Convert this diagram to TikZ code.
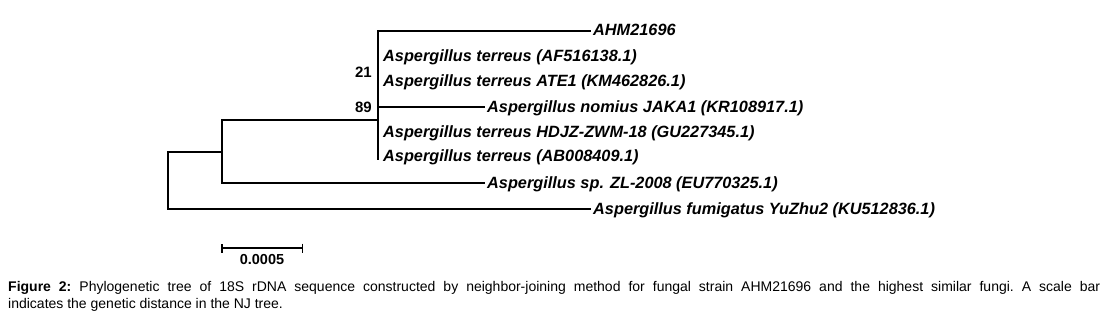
\documentclass[tikz,border=0pt]{standalone}
\usepackage{fontspec}
\setmainfont{Liberation Sans}
\usetikzlibrary{arrows.meta}

\tikzset{
  branch/.style={line width=1.7pt, line join=miter},
  taxon/.style={anchor=west, inner sep=2pt, text height=11pt, text depth=1pt,
    font=\bfseries\itshape\fontsize{16.3}{18}\selectfont},
  boot/.style={anchor=east, inner sep=1pt, font=\bfseries\fontsize{15}{16}\selectfont}
}

\begin{document}
\begin{tikzpicture}[x=1pt, y=-1pt]
  \useasboundingbox (0,0) rectangle (1107,313);

  % Internal nodes
  \coordinate (root) at (168,180);
  \coordinate (n2) at (222,152);
  \coordinate (n89) at (378,120);
  \coordinate (n89end) at (378,160);

  % Taxa with branch length
  \node[taxon] (ahm) at (591,31) {AHM21696};
  \node[taxon] (kr1089) at (485,107) {Aspergillus nomius JAKA1 (KR108917.1)};
  \node[taxon] (eu7703) at (485,183) {Aspergillus sp. ZL-2008 (EU770325.1)};
  \node[taxon] (ku5128) at (591,209) {Aspergillus fumigatus YuZhu2 (KU512836.1)};

  % Taxa sitting on the clade line
  \foreach \name/\y/\txt in {
      af5161/57/{Aspergillus terreus (AF516138.1)},
      km4628/81/{Aspergillus terreus ATE1 (KM462826.1)},
      gu2273/132/{Aspergillus terreus HDJZ-ZWM-18 (GU227345.1)},
      ab0084/156/{Aspergillus terreus (AB008409.1)}} {
    \node[taxon] (\name) at (381,\y) {\txt};
  }

  % Branches
  \draw[branch] (root) |- (n2);
  \draw[branch] (root) |- (ku5128.west);
  \draw[branch] (n2) |- (n89);
  \draw[branch] (n2) |- (eu7703.west);
  \draw[branch] (n89) |- (ahm.west);
  \draw[branch] (n89) |- (kr1089.west);
  \draw[branch] (n89) -- (n89end);

  % Bootstrap values
  \node[boot] (bs21) at (373,72) {21};
  \node[boot] (bs89) at (373,107) {89};

  % Scale bar
  \coordinate (sbL) at (221,248);
  \coordinate (sbR) at (303,248);
  \draw[line width=1.5pt, {Bar[width=9pt]}-{Bar[width=9pt]}] (sbL) -- (sbR);
  \node[font=\bfseries\fontsize{14.5}{16}\selectfont, inner sep=1pt] (sblab) at (262,260) {0.0005};

  % Caption
  \node[anchor=base west, text width=1092pt, align=justify, inner sep=0pt,
    font=\fontsize{14}{17}\selectfont\frenchspacing] (caption) at (8,291)
    {\textbf{Figure 2:} Phylogenetic tree of 18S rDNA sequence constructed by neighbor-joining method for fungal strain AHM21696 and the highest similar fungi. A scale bar\linebreak indicates the genetic distance in the NJ tree.};
\end{tikzpicture}
\end{document}
